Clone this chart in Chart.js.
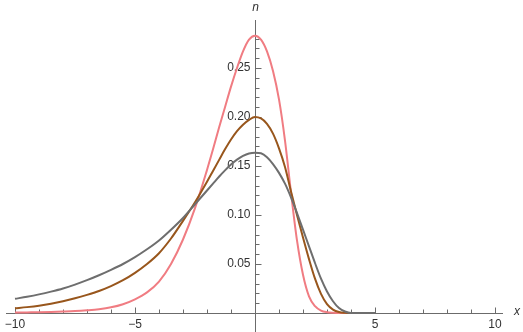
<!DOCTYPE html>
<html>
<head>
<meta charset="utf-8">
<script src="https://cdn.jsdelivr.net/npm/chart.js@4/dist/chart.umd.min.js"></script>
<style>
  html, body { margin: 0; padding: 0; background: #fff; }
  #c { display: block; }
</style>
</head>
<body>
<canvas id="c" width="523" height="332"></canvas>
<script>
// x samples shared by all three curves
const xs = [-10, -9.5, -9, -8.5, -8, -7.5, -7, -6.5, -6, -5.5, -5, -4.5, -4, -3.5, -3, -2.5, -2,
    -1.75, -1.5, -1.25, -1, -0.75, -0.5, -0.25, 0, 0.25, 0.5, 0.75, 1, 1.25, 1.5, 1.75, 2,
    2.25, 2.5, 2.75, 3, 3.25, 3.5, 3.75, 4, 4.5, 5];

const pinkN = [0.0004, 0.0006, 0.0008, 0.0011, 0.0015, 0.002, 0.0028, 0.0039, 0.0058, 0.009, 0.014, 0.021, 0.032, 0.050, 0.075, 0.107, 0.146,
    0.167, 0.189, 0.210, 0.231, 0.250, 0.267, 0.279, 0.283, 0.279, 0.267, 0.247, 0.218, 0.176, 0.123, 0.074, 0.039,
    0.017, 0.007, 0.0025, 0.0008, 0.0002, 0, 0, 0, 0, 0];

const brownN = [0.0048, 0.006, 0.0075, 0.0095, 0.012, 0.015, 0.0185, 0.0225, 0.0275, 0.0335, 0.041, 0.050, 0.061, 0.076, 0.094, 0.113, 0.134,
    0.145, 0.156, 0.167, 0.177, 0.1855, 0.192, 0.197, 0.200, 0.1985, 0.193, 0.183, 0.168, 0.149, 0.124, 0.100, 0.077,
    0.055, 0.035, 0.0195, 0.009, 0.0035, 0.001, 0.0002, 0, 0, 0];

const grayN = [0.0145, 0.0166, 0.019, 0.0218, 0.025, 0.029, 0.0335, 0.0385, 0.044, 0.050, 0.057, 0.065, 0.074, 0.085, 0.097, 0.111, 0.125,
    0.132, 0.139, 0.1455, 0.1515, 0.1565, 0.1603, 0.1628, 0.1636, 0.163, 0.159, 0.152, 0.143, 0.132, 0.118, 0.102, 0.085,
    0.068, 0.051, 0.035, 0.022, 0.012, 0.005, 0.0015, 0, 0, 0];

const xMajor = [-10, -5, 5, 10];
const xMinor = [-9, -8, -7, -6, -4, -3, -2, -1, 1, 2, 3, 4, 6, 7, 8, 9];
const yMajor = [0.05, 0.10, 0.15, 0.20, 0.25];
const yMinor = [0.01, 0.02, 0.03, 0.04, 0.06, 0.07, 0.08, 0.09, 0.11, 0.12, 0.13, 0.14,
    0.16, 0.17, 0.18, 0.19, 0.21, 0.22, 0.23, 0.24, 0.26, 0.27, 0.28];

const axisColor = '#6b6b6b';
const labelColor = '#333333';

function pts(ys) {
    return xs.map((x, i) => ({ x: x, y: ys[i] }));
}

// axes through the origin, Mathematica style
const originAxes = {
    id: 'originAxes',
    beforeDatasetsDraw(chart) {
        const ctx = chart.ctx;
        const sx = chart.scales.x;
        const sy = chart.scales.y;
        const x0 = Math.round(sx.getPixelForValue(0)) + 0.5;
        const y0 = Math.round(sy.getPixelForValue(0)) + 0.5;
        ctx.save();
        ctx.strokeStyle = axisColor;
        ctx.lineWidth = 1;
        ctx.beginPath();
        ctx.moveTo(6, y0);
        ctx.lineTo(503, y0);
        ctx.moveTo(x0, 20);
        ctx.lineTo(x0, chart.height);
        xMajor.forEach((v) => {
            const p = Math.round(sx.getPixelForValue(v)) + 0.5;
            ctx.moveTo(p, y0);
            ctx.lineTo(p, y0 - 6);
        });
        xMinor.forEach((v) => {
            const p = Math.round(sx.getPixelForValue(v)) + 0.5;
            ctx.moveTo(p, y0);
            ctx.lineTo(p, y0 - 4);
        });
        yMajor.forEach((v) => {
            const p = Math.round(sy.getPixelForValue(v)) + 0.5;
            ctx.moveTo(x0, p);
            ctx.lineTo(x0 + 6, p);
        });
        yMinor.forEach((v) => {
            const p = Math.round(sy.getPixelForValue(v)) + 0.5;
            ctx.moveTo(x0, p);
            ctx.lineTo(x0 + 4, p);
        });
        ctx.stroke();

        ctx.fillStyle = labelColor;
        ctx.font = '12px "Liberation Sans", Arial, sans-serif';
        ctx.textBaseline = 'middle';
        ctx.textAlign = 'center';
        xMajor.forEach((v) => {
            const txt = (v < 0 ? '\u2212' + Math.abs(v) : String(v));
            ctx.fillText(txt, sx.getPixelForValue(v), y0 + 11);
        });
        ctx.textAlign = 'right';
        yMajor.forEach((v) => {
            ctx.fillText(v.toFixed(2), x0 - 5, sy.getPixelForValue(v));
        });

        ctx.font = 'italic 12px "Liberation Sans", Arial, sans-serif';
        ctx.textAlign = 'center';
        ctx.fillText('x', 517, y0 - 2);
        ctx.fillText('n', x0, 8);
        ctx.restore();
    },
};

new Chart(document.getElementById('c'), {
    type: 'line',
    data: {
        datasets: [
            { label: 'gray', data: pts(grayN), borderColor: '#6e6e6e', order: 1 },
            { label: 'brown', data: pts(brownN), borderColor: '#98561c', order: 2 },
            { label: 'pink', data: pts(pinkN), borderColor: '#f07c82', order: 3 },
        ],
    },
    options: {
        responsive: false,
        animation: false,
        events: [],
        layout: { padding: 0 },
        datasets: {
            line: {
                borderWidth: 2,
                pointRadius: 0,
                fill: false,
                cubicInterpolationMode: 'monotone',
            },
        },
        scales: {
            x: {
                type: 'linear',
                display: false,
                min: -10 - 15 / 24,
                max: 10 + 28 / 24,
            },
            y: {
                type: 'linear',
                display: false,
                min: -19 / 980,
                max: 313 / 980,
            },
        },
        plugins: {
            legend: { display: false },
            tooltip: { enabled: false },
        },
    },
    plugins: [originAxes],
});
</script>
</body>
</html>
